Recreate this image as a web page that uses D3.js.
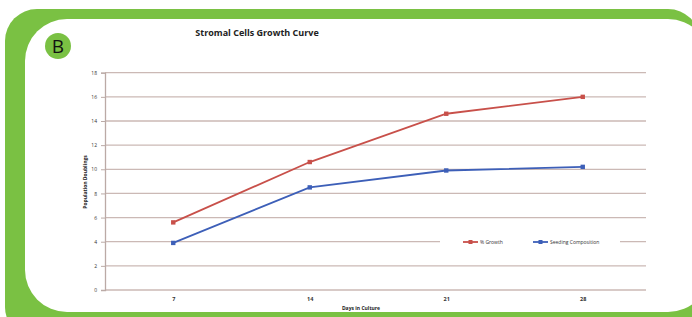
<!DOCTYPE html>
<html>
<head>
<meta charset="utf-8">
<script src="https://cdn.jsdelivr.net/npm/d3@7"></script>
<style>
  body { margin: 0; background: #fff; }
  text { font-family: "Open Sans", "DejaVu Sans", sans-serif; }
</style>
</head>
<body>
<div id="chart"></div>
<script>
// data
var days = ["7", "14", "21", "28"];
var growth = [5.6, 10.6, 14.6, 16.0];
var seeding = [3.9, 8.5, 9.9, 10.2];
var yTicks = [0, 2, 4, 6, 8, 10, 12, 14, 16, 18];
var seriesNames = ["% Growth", "Seeding Composition"];
var seriesColors = ["#c8504a", "#3d5fb8"];

var W = 692, H = 317;
var svg = d3.select("#chart").append("svg")
  .attr("width", W).attr("height", H);

// green frame
svg.append("rect")
  .attr("x", 5).attr("y", 9).attr("width", 695).attr("height", 330)
  .attr("rx", 32).attr("fill", "#7ac143");
svg.append("rect")
  .attr("x", 25).attr("y", 19).attr("width", 685).attr("height", 293)
  .attr("rx", 42).attr("fill", "#fff");

// "B" badge
svg.append("circle").attr("cx", 58).attr("cy", 46).attr("r", 13).attr("fill", "#7ac143");
svg.append("text").attr("x", 58).attr("y", 53)
  .attr("text-anchor", "middle").style("font-size", "19px").style("fill", "#111")
  .text("B");

// title
svg.append("text").attr("x", 257).attr("y", 36)
  .attr("text-anchor", "middle").style("font-size", "9px").style("font-weight", "bold")
  .style("fill", "#222").text("Stromal Cells Growth Curve");

var margin = {left: 105, right: 651, top: 72.7, bottom: 290};

var x = d3.scalePoint().domain(days).range([margin.left, margin.right]).padding(0.5);
var y = d3.scaleLinear().domain([0, 18]).range([margin.bottom, margin.top]);

// gridlines
svg.append("g").selectAll("line").data(yTicks).enter().append("line")
  .attr("x1", margin.left).attr("x2", 646)
  .attr("y1", function(d) { return y(d); }).attr("y2", function(d) { return y(d); })
  .attr("stroke", "#cbb9b5").attr("stroke-width", 1.3);

// y axis
var yAxis = svg.append("g")
  .attr("transform", "translate(" + margin.left + ",0)")
  .call(d3.axisLeft(y).tickValues(yTicks).tickSize(4).tickPadding(4));
yAxis.select(".domain").attr("stroke", "#bbaaa6").attr("stroke-width", 1.3);
yAxis.selectAll(".tick line").attr("stroke", "#bbaaa6");
yAxis.selectAll("text").style("font-size", "5px").style("fill", "#333").style("font-family", "'Open Sans', sans-serif");

// x axis
var xAxis = svg.append("g")
  .attr("transform", "translate(0," + margin.bottom + ")")
  .call(d3.axisBottom(x).tickSize(0).tickPadding(7));
xAxis.select(".domain").remove();
xAxis.selectAll("text").style("font-size", "5.5px").style("font-weight", "bold")
  .style("fill", "#333").style("font-family", "'Open Sans', sans-serif");

// axis titles
svg.append("text")
  .attr("transform", "translate(87,182) rotate(-90)")
  .attr("text-anchor", "middle").style("font-size", "5px").style("font-weight", "bold")
  .style("fill", "#222").text("Population Doublings");
svg.append("text").attr("x", 361).attr("y", 310)
  .attr("text-anchor", "middle").style("font-size", "5px").style("font-weight", "bold")
  .style("fill", "#222").text("Days in Culture");

// series
var series = [growth, seeding];
var line = d3.line()
  .x(function(d, i) { return x(days[i]); })
  .y(function(d) { return y(d); });

series.forEach(function(vals, k) {
  svg.append("path").datum(vals)
    .attr("d", line).attr("fill", "none")
    .attr("stroke", seriesColors[k]).attr("stroke-width", 1.8);
  svg.append("g").selectAll("rect").data(vals).enter().append("rect")
    .attr("x", function(d, i) { return x(days[i]) - 2.2; })
    .attr("y", function(d) { return y(d) - 2.2; })
    .attr("width", 4.4).attr("height", 4.4)
    .attr("fill", seriesColors[k]);
});

// legend
svg.append("rect").attr("x", 440).attr("y", 234).attr("width", 180).attr("height", 16).attr("fill", "#fff");
var legX = [463, 533];
seriesNames.forEach(function(name, k) {
  svg.append("line")
    .attr("x1", legX[k]).attr("x2", legX[k] + 15)
    .attr("y1", 242).attr("y2", 242)
    .attr("stroke", seriesColors[k]).attr("stroke-width", 1.8);
  svg.append("rect").attr("x", legX[k] + 5.5).attr("y", 240).attr("width", 4).attr("height", 4)
    .attr("fill", seriesColors[k]);
  svg.append("text").attr("x", legX[k] + 17).attr("y", 244)
    .style("font-size", "5px").style("fill", "#333").text(name);
});
</script>
</body>
</html>
